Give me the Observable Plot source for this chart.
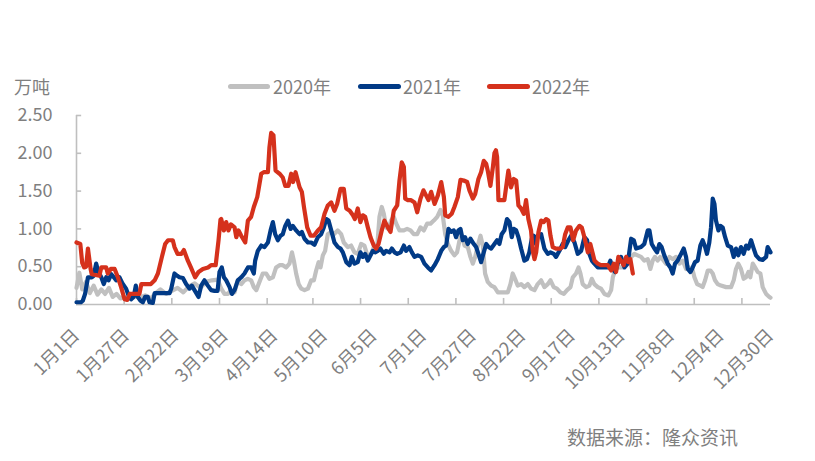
<!DOCTYPE html>
<html>
<head>
<meta charset="utf-8">
<script src="https://cdn.jsdelivr.net/npm/d3@7"></script>
<script src="https://cdn.jsdelivr.net/npm/@observablehq/plot@0.6"></script>
<style>
  body { margin: 0; background: #fff; }
  #wrap { position: relative; width: 815px; height: 461px; overflow: hidden;
          font-family: "Noto Sans CJK SC", "Noto Sans", sans-serif; color: #7f7f7f; }
  #wrap svg { position: absolute; left: 0; top: 0; }
  .sw { position: absolute; height: 5px; border-radius: 3px; top: 84px; }
  .lt { position: absolute; top: 75px; font-size: 18px; line-height: 22px; white-space: nowrap; }
  #unit { position: absolute; left: 14px; top: 75px; font-size: 18px; line-height: 22px; }
  #src { position: absolute; left: 567px; top: 425px; font-size: 19px; line-height: 24px; white-space: nowrap; }
</style>
</head>
<body>
<div id="wrap"></div>
<script>
// ---- data: [day of year index, value (万吨)] ----
const s2020 = [[0,0.22],[1.5,0.42],[3,0.20],[5,0.30],[7,0.15],[9,0.25],[11,0.13],[13,0.20],[15,0.14],[17,0.22],[19,0.10],[21,0.14],[23,0.08],[25,0.10],[27,0.07],[30,0.12],[33,0.09],[36,0.12],[39,0.08],[42,0.16],[44,0.20],[47,0.14],[50,0.18],[53,0.22],[56,0.16],[59,0.24],[62,0.28],[65,0.22],[68,0.30],[71,0.32],[74.1,0.33],[75.9,0.21],[77.6,0.14],[79.4,0.14],[81.1,0.19],[82.9,0.16],[84.6,0.32],[86.4,0.27],[88.1,0.32],[89.9,0.34],[91.6,0.32],[93,0.23],[94.3,0.19],[96,0.30],[97.7,0.41],[99.5,0.41],[101.2,0.34],[103,0.36],[104.7,0.49],[106.5,0.52],[108.2,0.52],[110,0.49],[111.7,0.54],[113,0.69],[114,0.58],[115.2,0.41],[116.5,0.27],[117.9,0.21],[119.6,0.19],[121.4,0.21],[123.1,0.32],[124.5,0.32],[125.7,0.45],[127,0.56],[128,0.49],[129.2,0.65],[130.4,0.71],[131.8,0.93],[133.6,0.96],[135,0.93],[137,0.98],[138.8,0.93],[140.2,0.82],[142.3,0.76],[144,0.78],[145.8,0.69],[147.5,0.67],[149.3,0.80],[151,0.78],[152.8,0.63],[154.5,0.67],[156.3,0.78],[157.7,0.76],[158.9,1.16],[160.1,1.29],[161.2,1.20],[162.4,1.02],[163.6,1.00],[165,1.11],[166.4,1.16],[167.7,1.07],[169.4,0.98],[171.7,0.98],[173.4,1.00],[175.2,0.98],[176.9,0.93],[178.7,0.93],[180.4,1.02],[182.2,0.98],[183.9,1.07],[185.7,1.07],[187.4,1.11],[189.2,1.16],[190.9,1.25],[192.1,1.18],[193.4,0.93],[194.8,0.80],[196.5,0.71],[198.2,0.65],[199.6,0.69],[200.9,0.85],[202.1,0.91],[203.5,0.78],[205.2,0.76],[206.6,0.63],[207.9,0.54],[209.1,0.63],[210.5,0.78],[211.9,0.91],[213.1,0.78],[214.3,0.41],[215.7,0.30],[217.5,0.25],[219.2,0.23],[221,0.16],[226.2,0.16],[227.6,0.27],[228.8,0.41],[230,0.34],[231.4,0.25],[233.2,0.27],[234.9,0.23],[236.7,0.27],[238.4,0.21],[240.2,0.19],[241.9,0.27],[243.7,0.32],[245.4,0.23],[247.2,0.27],[248.6,0.32],[250.3,0.23],[252,0.21],[253.8,0.16],[255.6,0.14],[257.3,0.19],[259.1,0.23],[260.3,0.36],[262,0.41],[263.3,0.49],[264.3,0.41],[265.5,0.27],[267.3,0.23],[269,0.25],[270.3,0.34],[271.6,0.27],[273.4,0.23],[275.1,0.21],[276.9,0.14],[279,0.12],[280.4,0.19],[281.3,0.36],[282.5,0.45],[284.2,0.49],[286.5,0.49],[289.1,0.58],[290.9,0.63],[292.6,0.67],[294.3,0.65],[296.1,0.63],[297.8,0.58],[299.6,0.60],[301,0.47],[302.2,0.58],[303.4,0.63],[304.8,0.58],[306.2,0.63],[308,0.58],[309.2,0.54],[311,0.63],[312.7,0.60],[314.5,0.63],[316.2,0.54],[318,0.58],[319.7,0.47],[321.4,0.49],[323.2,0.45],[324.1,0.36],[325.5,0.27],[327.2,0.25],[328.4,0.23],[329.7,0.32],[331.1,0.45],[332.5,0.45],[333.7,0.41],[334.9,0.32],[336.3,0.27],[338,0.25],[340.7,0.23],[343.3,0.23],[344.7,0.32],[345.9,0.47],[347.1,0.54],[348.5,0.47],[349.9,0.34],[351.2,0.36],[352.4,0.43],[353.4,0.36],[354.7,0.54],[355.9,0.49],[357.3,0.43],[358.7,0.41],[359.9,0.23],[361.7,0.14],[363.4,0.10],[364,0.09]];

const s2021 = [[0,0.03],[2.4,0.03],[3.3,0.05],[4.5,0.14],[6,0.36],[8,0.36],[9,0.38],[10.3,0.54],[11.5,0.43],[13,0.36],[14.3,0.27],[15.6,0.36],[16.8,0.32],[18.2,0.40],[19.6,0.36],[20.8,0.32],[22.5,0.36],[24.3,0.27],[26,0.21],[27.3,0.12],[28.7,0.07],[30,0.10],[31.1,0.25],[32.2,0.10],[33.6,0.05],[34.8,0.03],[36,0.10],[37.4,0.10],[38.3,0.03],[40,0.02],[41,0.15],[48.8,0.15],[49.7,0.21],[51.4,0.41],[52.8,0.38],[54,0.36],[55.8,0.35],[57.5,0.27],[59.3,0.21],[60.5,0.25],[61.9,0.19],[64,0.10],[65.4,0.25],[67.1,0.32],[68.9,0.25],[70.6,0.19],[72.4,0.18],[74,0.18],[75,0.43],[76.2,0.49],[77.3,0.36],[78.5,0.32],[80.3,0.23],[81.5,0.14],[82.9,0.19],[84.6,0.32],[86.4,0.36],[88.1,0.41],[89.9,0.49],[91.6,0.49],[93,0.41],[93.7,0.58],[95.1,0.71],[96.9,0.78],[98.6,0.76],[100.4,0.82],[101.8,0.98],[103,1.09],[104.2,0.93],[105.6,0.85],[107,0.91],[108.2,0.93],[109.5,1.04],[110.9,1.11],[112.3,1.00],[113.5,1.04],[115.2,0.98],[117,0.93],[118.2,0.96],[119.6,0.87],[121.4,0.82],[123.1,0.82],[124.8,0.79],[126.6,0.89],[128.3,0.93],[129.7,1.02],[131,1.13],[132.2,1.11],[133.6,0.98],[135.3,0.82],[137.1,0.76],[138.5,0.74],[139.7,0.69],[141.5,0.56],[143.2,0.52],[144.4,0.63],[145.8,0.54],[147.5,0.56],[148.9,0.69],[150.2,0.63],[151.4,0.67],[152.8,0.58],[154.2,0.65],[155.4,0.71],[156.6,0.69],[158,0.71],[159.4,0.74],[161.2,0.67],[162.4,0.71],[164.2,0.69],[165.4,0.74],[166.8,0.69],[168.2,0.67],[170,0.69],[171.7,0.78],[172.9,0.71],[174.6,0.76],[175.9,0.69],[177.3,0.63],[179,0.65],[180.8,0.63],[182.5,0.54],[184.3,0.49],[186,0.45],[187.8,0.52],[189.5,0.60],[191.3,0.71],[192.7,0.76],[193.9,0.78],[195.1,1.00],[196.5,0.96],[197.9,0.98],[199.1,0.89],[200.3,0.98],[201.4,1.00],[202.6,0.85],[203.8,0.89],[205.2,0.80],[206.6,0.87],[208.4,0.80],[209.6,0.76],[210.8,0.67],[212.2,0.56],[213.6,0.69],[214.9,0.80],[216.1,0.76],[217.5,0.74],[219.2,0.80],[220.6,0.85],[221.8,0.80],[223,0.93],[224.4,0.98],[225.8,1.13],[227.1,1.09],[228.3,0.89],[229.3,1.00],[230.6,0.98],[231.8,0.89],[233.2,0.74],[234.9,0.58],[236.3,0.60],[237.5,0.69],[238.8,0.87],[239.8,0.91],[241,0.80],[241.9,0.91],[243.7,0.93],[245.4,0.74],[247.2,0.67],[248.6,0.69],[250.3,0.67],[251.5,0.63],[253.3,0.71],[255,0.80],[256.3,0.76],[258,0.85],[259.4,0.91],[261.2,0.82],[262.9,0.67],[264.7,0.71],[266.4,0.89],[267.8,0.85],[269,0.67],[270.3,0.58],[271.6,0.54],[273.4,0.49],[278.6,0.49],[280,0.58],[281.3,0.47],[282.5,0.43],[283.9,0.54],[285.6,0.63],[287.4,0.49],[289.1,0.54],[290.9,0.87],[292.3,0.85],[293.5,0.74],[296.1,0.76],[297.8,0.80],[299.6,0.98],[300.5,0.98],[301.7,0.80],[303.1,0.74],[304.5,0.69],[305.7,0.80],[306.9,0.76],[308.3,0.65],[310.1,0.54],[311.5,0.49],[312.7,0.41],[313.9,0.54],[315.3,0.58],[317.1,0.67],[318.5,0.74],[319.7,0.63],[320.6,0.47],[322,0.43],[323.2,0.49],[324.4,0.56],[325.8,0.58],[327.2,0.78],[328.4,0.85],[329.7,0.76],[330.7,0.67],[331.9,0.82],[332.8,1.02],[333.7,1.40],[334.6,1.33],[335.4,1.11],[336.7,0.98],[337.7,1.04],[338.9,1.02],[340.2,0.89],[341.6,0.78],[343.3,0.76],[344.7,0.63],[345.9,0.74],[347.1,0.65],[348.5,0.76],[349.9,0.67],[351.2,0.78],[352.4,0.74],[353.8,0.85],[355.2,0.74],[356.4,0.65],[358.2,0.60],[359.9,0.59],[361.7,0.63],[362.5,0.76],[364,0.69]];

const s2022 = [[0,0.82],[2,0.80],[3,0.55],[4,0.49],[5,0.50],[6,0.74],[7.4,0.47],[8,0.40],[12,0.38],[13,0.49],[15.6,0.49],[16.4,0.41],[18,0.47],[20,0.47],[21.7,0.36],[23.4,0.23],[25.2,0.07],[26.6,0.06],[28,0.14],[33,0.14],[34,0.27],[39,0.27],[41,0.32],[42.7,0.41],[44.8,0.63],[46.5,0.80],[48,0.85],[50.5,0.85],[51.4,0.76],[53,0.67],[55,0.67],[56.3,0.72],[58.4,0.58],[60,0.49],[62.2,0.36],[64,0.43],[66.3,0.47],[69,0.49],[70.6,0.52],[73,0.52],[74.5,0.85],[75.5,1.12],[75.9,1.13],[77.3,0.98],[78.5,1.09],[79.7,0.98],[81,1.06],[82.9,1.02],[83.8,0.89],[85,0.98],[86.4,0.91],[88.5,0.82],[89.9,1.11],[91.6,1.16],[93,1.29],[94.8,1.42],[96,1.60],[96.9,1.73],[98.2,1.75],[100.4,1.75],[101.2,2.08],[102.1,2.27],[103.3,2.24],[104.4,1.77],[106.5,1.73],[108.2,1.68],[109.5,1.57],[111.2,1.57],[112.6,1.73],[113.6,1.62],[114.9,1.75],[117,1.55],[118.2,1.49],[119.3,1.29],[121,1.02],[122.8,0.91],[124.5,0.91],[126.6,0.98],[128.3,1.02],[130.1,1.20],[131.8,1.31],[133.6,1.35],[135.3,1.24],[136.7,1.33],[138.5,1.53],[140.2,1.53],[141.5,1.27],[143.3,1.24],[145,1.18],[146,1.13],[147.5,1.27],[148.9,1.09],[150.2,1.18],[151.4,1.16],[152.8,1.02],[154.2,0.89],[155.9,0.78],[157.2,0.74],[158.4,0.80],[160.1,0.98],[161.5,1.11],[163.3,1.02],[164.7,0.96],[166.4,1.24],[168.2,1.31],[169.4,1.64],[170.6,1.88],[171.7,1.82],[172.4,1.40],[173.8,1.38],[175.5,1.38],[177.3,1.35],[178.7,1.22],[180.4,1.40],[182,1.51],[183.4,1.44],[184.6,1.38],[186,1.49],[187.8,1.33],[189.5,1.44],[191.3,1.62],[192.7,1.42],[193.4,1.18],[195.1,1.16],[196.8,1.20],[198.2,1.29],[200,1.42],[201.4,1.65],[203.1,1.64],[204.9,1.62],[206.1,1.51],[207.9,1.40],[209.1,1.46],[210.8,1.66],[212.2,1.75],[213.6,1.90],[214.9,1.86],[215.7,1.77],[217.1,1.57],[218.4,1.82],[219.2,2.00],[220,2.04],[220.6,1.95],[221.3,1.38],[224.4,1.38],[225.8,1.64],[226.5,1.77],[227.9,1.55],[229.3,1.66],[230.6,1.64],[231.8,1.31],[233.2,1.27],[234.6,1.20],[235.8,1.38],[237,1.13],[238.4,0.98],[239.3,0.71],[240.2,0.60],[241.1,0.69],[242.3,0.96],[243.7,1.11],[245.1,1.09],[246.3,1.13],[247.5,1.11],[248.6,0.91],[249.8,0.76],[251.5,0.74],[253.8,0.74],[255,0.76],[256.3,0.93],[257.7,1.02],[259.1,1.02],[260.5,0.85],[262,0.98],[263.8,1.04],[265,1.02],[266.4,0.89],[268.2,0.69],[269.5,0.80],[270.8,0.67],[271.7,0.58],[273.4,0.54],[275,0.52],[278.6,0.52],[280.4,0.45],[281.8,0.54],[283,0.43],[284.2,0.63],[285.6,0.58],[287,0.52],[288.3,0.63],[289.5,0.56],[290.5,0.60],[291.8,0.41]];

const seriesNames = ["2020年", "2021年", "2022年"];
const seriesColors = ["#c0c0c0", "#013a86", "#d5311c"];

const xLabelDays = [0, 26, 52, 78, 104, 130, 156, 182, 208, 234, 260, 286, 312, 338, 364];
const xLabels = ["1月1日", "1月27日", "2月22日", "3月19日", "4月14日", "5月10日", "6月5日", "7月1日", "7月27日", "8月22日", "9月17日", "10月13日", "11月8日", "12月4日", "12月30日"];
const xTickMarks = [0, 25, 50, 75, 100, 124, 149, 174, 199, 224, 249, 274, 299, 324, 349];
const yTicks = [0, 0.5, 1, 1.5, 2, 2.5];

const unitText = "万吨";
const sourceText = "数据来源：隆众资讯";

// ---- build ----
const toRows = s => s.map(([day, value]) => ({day, value}));
const allSeries = [s2020, s2021, s2022].map(toRows);
const labelMap = new Map(xLabelDays.map((d, i) => [d, xLabels[i]]));
const axisColor = "#bfbfbf";

const chart = Plot.plot({
  width: 815,
  height: 461,
  marginLeft: 76,
  marginRight: 45,
  marginTop: 115,
  marginBottom: 157,
  x: {domain: [0, 364], label: null},
  y: {domain: [0, 2.5], label: null},
  style: {
    fontFamily: '"Noto Sans CJK SC", "Noto Sans", sans-serif',
    fontSize: "18px",
    color: "#7f7f7f",
    background: "transparent",
    overflow: "visible"
  },
  marks: [
    Plot.ruleX([0], {stroke: axisColor, strokeWidth: 1.6}),
    Plot.ruleY([0], {stroke: axisColor, strokeWidth: 1.6}),
    Plot.ruleY(yTicks, {x1: 0, x2: 2.7, stroke: axisColor, strokeWidth: 1.6}),
    Plot.ruleX(xTickMarks, {y1: 0, y2: 0.08, stroke: axisColor, strokeWidth: 1.6}),
    Plot.axisY(yTicks, {tickSize: 0, tickPadding: 24, tickFormat: d3.format(".2f"), label: null}),
    Plot.axisX(xLabelDays, {tickSize: 0, tickPadding: 28, tickRotate: -45, tickFormat: d => labelMap.get(d), label: null}),
    ...allSeries.map((rows, i) => Plot.line(rows, {
      x: "day", y: "value", stroke: seriesColors[i], strokeWidth: 4.2,
      strokeLinejoin: "round", strokeLinecap: "round"
    }))
  ]
});

const wrap = document.getElementById("wrap");
wrap.appendChild(chart);

// legend (HTML, above the plot area)
const legendPos = [[228, 42, 273], [358, 43, 403], [487, 43, 532]];
seriesNames.forEach((name, i) => {
  const [lx, lw, tx] = legendPos[i];
  const sw = document.createElement("div");
  sw.className = "sw";
  sw.style.left = lx + "px";
  sw.style.width = lw + "px";
  sw.style.background = seriesColors[i];
  wrap.appendChild(sw);
  const t = document.createElement("div");
  t.className = "lt";
  t.style.left = tx + "px";
  t.textContent = name;
  wrap.appendChild(t);
});
const unit = document.createElement("div");
unit.id = "unit";
unit.textContent = unitText;
wrap.appendChild(unit);
const src = document.createElement("div");
src.id = "src";
src.textContent = sourceText;
wrap.appendChild(src);
</script>
</body>
</html>
